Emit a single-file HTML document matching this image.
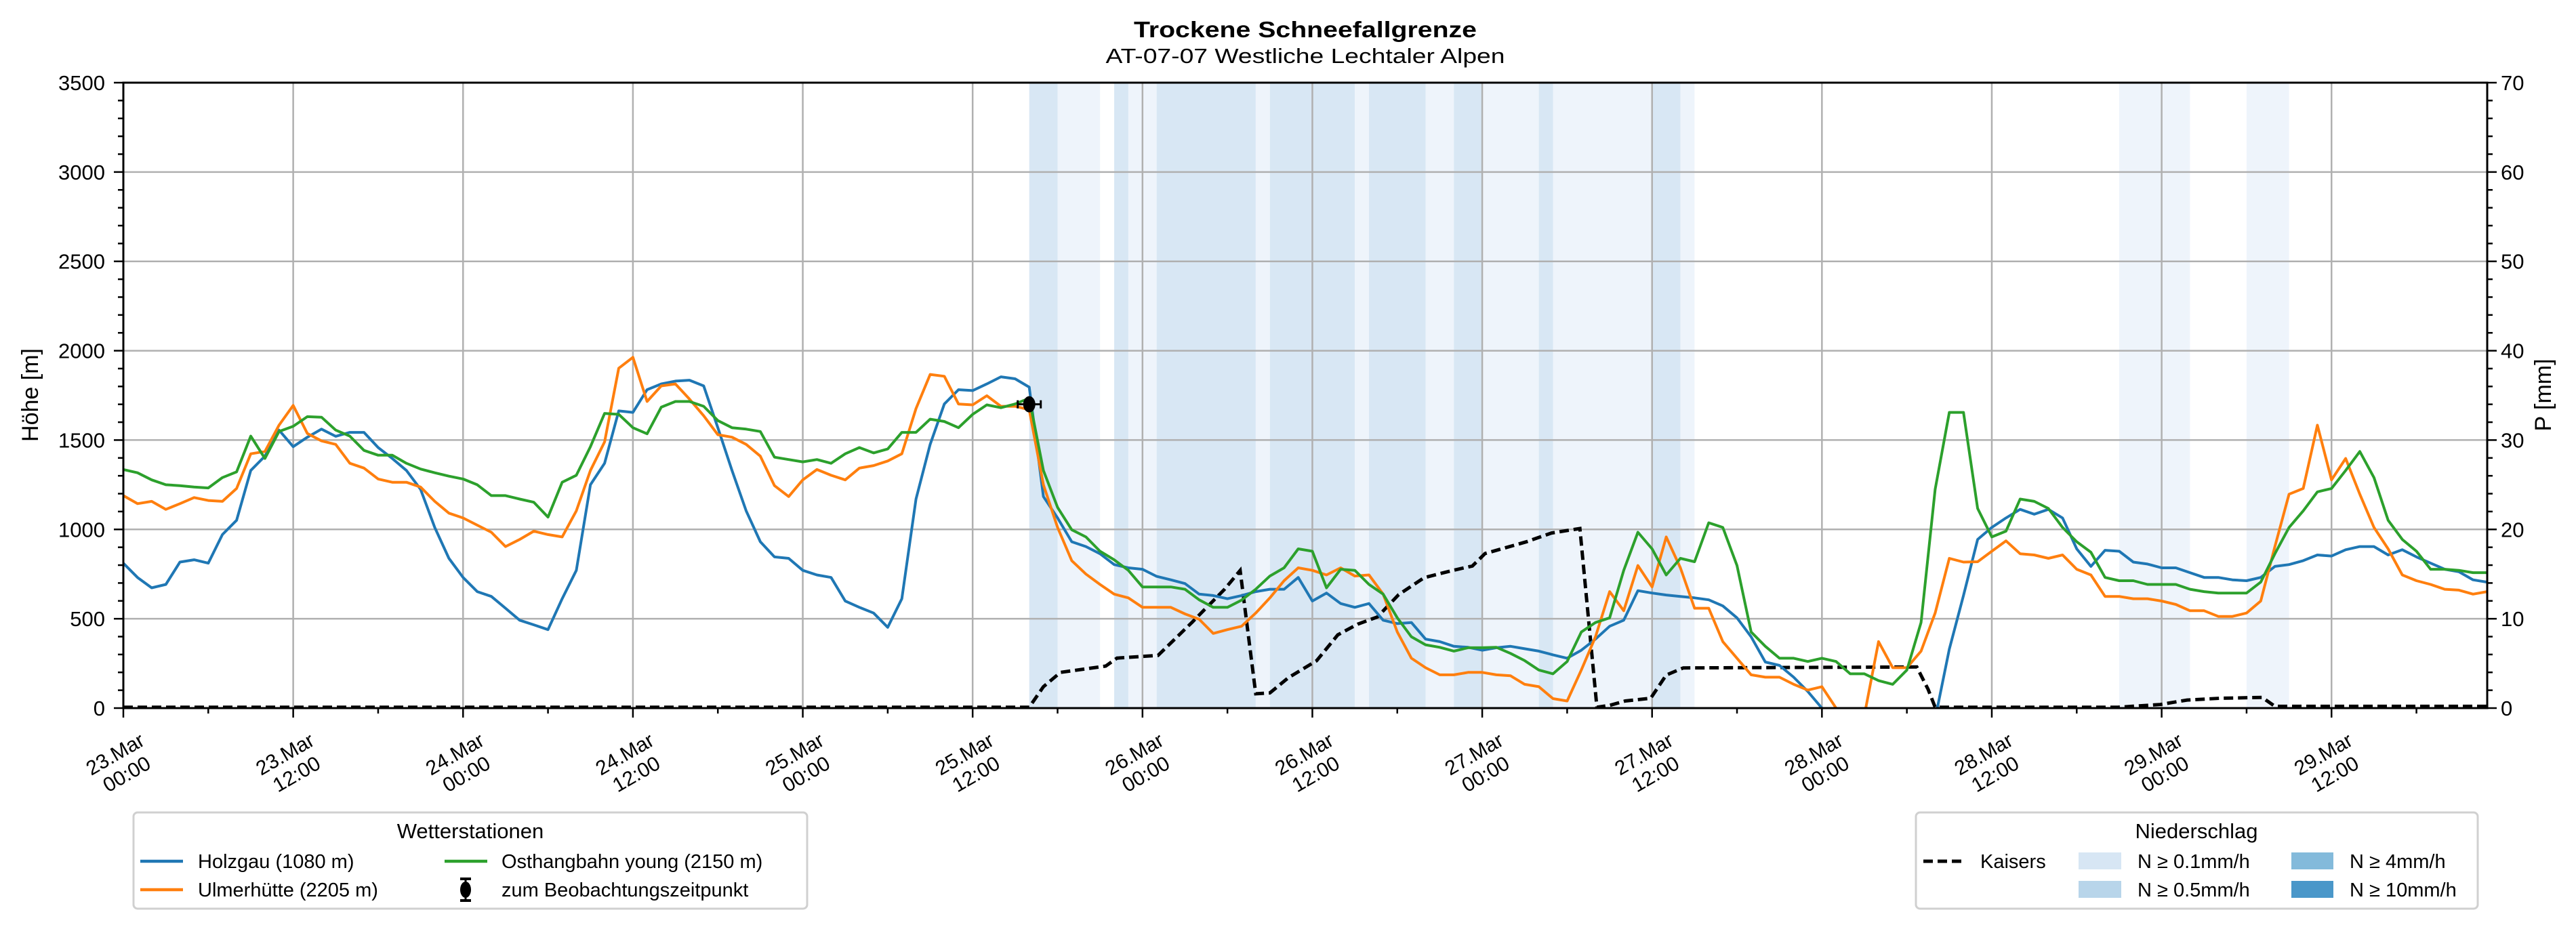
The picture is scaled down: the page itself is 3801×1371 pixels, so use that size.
<!DOCTYPE html>
<html><head><meta charset="utf-8"><title>Trockene Schneefallgrenze</title>
<style>
html,body{margin:0;padding:0;background:#fff;}
svg{display:block;font-family:"Liberation Sans","DejaVu Sans",sans-serif;}
</style></head>
<body>
<svg id="chart" width="3801" height="1371" viewBox="0 0 3801 1371" xmlns="http://www.w3.org/2000/svg">
  <rect x="0" y="0" width="3801" height="1371" fill="#fff"/>
  <defs><clipPath id="plotclip"><rect x="182" y="122" width="3488" height="923"/></clipPath></defs>
  <text x="1926" y="55" text-anchor="middle" font-weight="bold" font-size="33" textLength="506" lengthAdjust="spacingAndGlyphs">Trockene Schneefallgrenze</text>
  <text x="1926" y="93" text-anchor="middle" font-size="31" textLength="589" lengthAdjust="spacingAndGlyphs">AT-07-07 Westliche Lechtaler Alpen</text>
  <g id="spans"></g>
  <g id="grid"></g>
  <g id="series" clip-path="url(#plotclip)"></g>
  <g id="axes"></g>
  <text transform="translate(56,583) rotate(-90)" text-anchor="middle" font-size="34">Höhe [m]</text>
  <text transform="translate(3764,583) rotate(-90)" text-anchor="middle" font-size="34">P [mm]</text>

  <g>
    <rect x="197" y="1199" width="994" height="142" rx="6" fill="#fff" stroke="#d0d0d0" stroke-width="3"/>
    <text x="694" y="1237" text-anchor="middle" font-size="31">Wetterstationen</text>
    <g>
      <line x1="207" y1="1271" x2="270" y2="1271" stroke="#1f77b4" stroke-width="4.5"/>
      <text x="292" y="1281" font-size="29">Holzgau (1080 m)</text>
    </g>
    <g>
      <line x1="207" y1="1313" x2="270" y2="1313" stroke="#ff7f0e" stroke-width="4.5"/>
      <text x="292" y="1323" font-size="29">Ulmerhütte (2205 m)</text>
    </g>
    <g>
      <line x1="656" y1="1271" x2="719" y2="1271" stroke="#2ca02c" stroke-width="4.5"/>
      <text x="740" y="1281" font-size="29">Osthangbahn young (2150 m)</text>
    </g>
    <g>
      <line x1="687" y1="1297" x2="687" y2="1329" stroke="#000" stroke-width="3"/>
      <line x1="679" y1="1297" x2="695" y2="1297" stroke="#000" stroke-width="4"/>
      <line x1="679" y1="1329" x2="695" y2="1329" stroke="#000" stroke-width="4"/>
      <ellipse cx="687" cy="1313" rx="8" ry="12" fill="#000"/>
      <text x="740" y="1323" font-size="29">zum Beobachtungszeitpunkt</text>
    </g>
  </g>

  <g>
    <rect x="2827" y="1199" width="829" height="142" rx="6" fill="#fff" stroke="#d0d0d0" stroke-width="3"/>
    <text x="3241" y="1237" text-anchor="middle" font-size="31">Niederschlag</text>
    <g>
      <line x1="2838" y1="1271" x2="2896" y2="1271" stroke="#000" stroke-width="5" stroke-dasharray="14,7"/>
      <text x="2922" y="1281" font-size="29">Kaisers</text>
    </g>
    <g>
      <rect x="3067" y="1258" width="63" height="25" fill="#d7e6f4"/>
      <text x="3154" y="1281" font-size="29">N ≥ 0.1mm/h</text>
    </g>
    <g>
      <rect x="3067" y="1300" width="63" height="25" fill="#b8d5ea"/>
      <text x="3154" y="1323" font-size="29">N ≥ 0.5mm/h</text>
    </g>
    <g>
      <rect x="3381" y="1258" width="62" height="25" fill="#83badb"/>
      <text x="3467" y="1281" font-size="29">N ≥ 4mm/h</text>
    </g>
    <g>
      <rect x="3381" y="1300" width="62" height="25" fill="#4a97c9"/>
      <text x="3467" y="1323" font-size="29">N ≥ 10mm/h</text>
    </g>
  </g>
</svg>
<script>
// ---- data ----
const holzgau = [811,731,673,692,817,830,811,971,1051,1330,
1410,1556,1463,1516,1561,1521,1543,1543,1458,1397,
1330,1224,1011,838,731,652,625,559,492,466,
439,612,771,1250,1370,1663,1655,1782,1814,1830,
1835,1803,1569,1330,1104,931,846,838,771,745,
731,599,564,532,452,612,1170,1476,1702,1782,
1777,1814,1854,1843,1796,1184,1064,931,904,864,
803,785,777,737,718,697,638,630,612,630,
652,665,665,731,599,644,585,564,585,492,
473,479,386,372,346,340,324,338,346,332,
319,298,279,324,386,458,492,657,644,633,
625,617,606,572,505,399,258,239,173,93,
0,-300,-300,-300,-300,-300,-300,-300,-60,330,
630,944,1011,1064,1112,1085,1112,1064,891,793,
883,878,817,806,785,785,758,731,731,718,
713,731,793,803,825,857,851,886,904,904,
857,886,846,811,777,763,718,705];
const ulmerhuette = [1189,1144,1157,1112,1144,1178,1162,1157,1229,1423,
1436,1583,1694,1537,1495,1476,1370,1343,1282,1264,
1264,1237,1157,1091,1064,1024,984,904,944,990,
971,958,1104,1330,1490,1902,1963,1716,1803,1814,
1729,1636,1530,1516,1476,1410,1245,1184,1277,1335,
1303,1277,1343,1357,1383,1423,1676,1867,1857,1702,
1697,1748,1689,1689,1670,1250,1011,825,750,692,
638,617,564,564,564,527,497,418,439,458,
532,617,713,785,771,745,785,739,745,638,
426,279,226,186,186,200,200,186,181,133,
120,53,40,213,399,652,545,798,678,958,
785,559,559,372,279,186,173,173,133,101,
120,0,-300,-40,372,226,226,319,532,838,
817,819,878,936,864,857,838,857,777,745,
625,625,612,612,599,580,545,545,513,513,
532,599,904,1197,1229,1583,1277,1397,1197,1011,
891,745,713,692,665,660,638,652];
const osthangbahn = [1335,1317,1277,1250,1245,1237,1232,1290,1322,1522,
1397,1548,1577,1631,1628,1556,1522,1442,1415,1415,
1370,1338,1317,1298,1282,1250,1189,1189,1170,1152,
1069,1264,1303,1463,1649,1644,1569,1535,1684,1716,
1716,1689,1609,1569,1561,1548,1404,1391,1378,1391,
1370,1423,1458,1428,1450,1543,1543,1617,1604,1569,
1644,1697,1681,1702,1734,1330,1123,998,958,878,
830,771,678,678,678,665,606,564,564,604,
665,739,785,891,878,673,777,771,692,638,
505,399,354,340,319,338,338,340,306,266,
213,192,261,426,479,505,771,984,891,745,
838,819,1037,1011,798,426,346,279,279,261,
279,261,192,192,154,133,213,479,1224,1655,
1655,1117,958,990,1170,1157,1117,1011,931,872,
731,713,713,692,692,692,665,652,644,644,
644,705,864,1011,1104,1210,1229,1330,1436,1290,
1051,944,878,777,777,771,758,758];
const kaisersHours = [0,64,65,66.2,69.4,70.2,73.1,75.5,77.8,78.9,80,81,82.3,84.3,85.8,87.2,88.6,90.1,91.9,93.9,95.3,96.2,99.1,100.9,102.9,104.1,105,106.1,107.9,109,110.2,126.7,127.5,128,140.9,143.9,145.8,148.1,151.1,152,167];
const kaisersMM = [0.1,0.1,2.4,4.0,4.7,5.6,5.9,9.6,13.3,15.4,1.6,1.7,3.4,5.3,8.2,9.4,10.2,12.7,14.6,15.4,15.9,17.3,18.6,19.6,20.1,0.1,0.3,0.8,1.1,3.7,4.5,4.6,2.1,0.1,0.1,0.4,0.9,1.1,1.2,0.2,0.2];
const precipStart = [64,66,70,71,73,80,81,87,88,92,94,96,100,101,108,110,141,150];
const precipEnd   = [66,69,71,73,80,81,87,88,92,94,96,100,101,108,110,111,146,153];
const precipLevel = [2,1,2,1,2,1,2,1,2,1,2,1,2,1,2,1,1,1];
const obsHour = [64];
const obsValue = [1700];
const xTickLabels = [["23.Mar","00:00"],["23.Mar","12:00"],["24.Mar","00:00"],["24.Mar","12:00"],["25.Mar","00:00"],["25.Mar","12:00"],["26.Mar","00:00"],["26.Mar","12:00"],["27.Mar","00:00"],["27.Mar","12:00"],["28.Mar","00:00"],["28.Mar","12:00"],["29.Mar","00:00"],["29.Mar","12:00"]];
const yTickValues = [0,500,1000,1500,2000,2500,3000,3500];
const y2TickValues = [0,10,20,30,40,50,60,70];

// ---- scales ----
const PL=182, PR=3670, PT=122, PB=1045, HMAX=167;
const NS="http://www.w3.org/2000/svg";
function xs(h){return PL+(PR-PL)*h/HMAX;}
function ys(v){return PB-(PB-PT)*v/3500;}
function ys2(v){return PB-(PB-PT)*v/70;}
function mk(tag,attrs,parent){const e=document.createElementNS(NS,tag);for(const k in attrs)e.setAttribute(k,attrs[k]);parent.appendChild(e);return e;}

const spans=document.getElementById('spans');
const grid=document.getElementById('grid');
const series=document.getElementById('series');
const axes=document.getElementById('axes');

// spans
const spanColors={1:"#eef4fb",2:"#d8e7f4"};
for(let i=0;i<precipStart.length;i++){
  const r=mk('rect',{x:xs(precipStart[i]),y:PT,width:xs(precipEnd[i])-xs(precipStart[i]),height:PB-PT,fill:spanColors[precipLevel[i]]},spans);
  
  
}
// grid
for(let i=0;i<xTickLabels.length;i++){
  const g=mk('line',{x1:xs(i*12),x2:xs(i*12),y1:PT,y2:PB,stroke:"#b0b0b0","stroke-width":2.5},grid);
  
  
}
for(const v of yTickValues){
  const g=mk('line',{x1:PL,x2:PR,y1:ys(v),y2:ys(v),stroke:"#b0b0b0","stroke-width":2.5},grid);
  
  
}
// series
function pathFrom(vals){return vals.map((v,i)=>(i?'L':'M')+xs(i).toFixed(1)+','+ys(v).toFixed(1)).join(' ');}
const sdefs=[[holzgau,"#1f77b4","line-holzgau"],[ulmerhuette,"#ff7f0e","line-ulmerhuette"],[osthangbahn,"#2ca02c","line-osthangbahn"]];
const kp=mk('path',{d:kaisersHours.map((h,i)=>(i?'L':'M')+xs(h).toFixed(1)+','+ys2(kaisersMM[i]).toFixed(1)).join(' '),fill:"none",stroke:"#000","stroke-width":5,"stroke-dasharray":"14,7"},series);


for(const [vals,col,name] of sdefs){
  const p=mk('path',{d:pathFrom(vals),fill:"none",stroke:col,"stroke-width":4,"stroke-linejoin":"round"},series);
  
  
}
// observation marker
for(let i=0;i<obsHour.length;i++){
  const cx=xs(obsHour[i]), cy=ys(obsValue[i]);
  const og=mk('g',{},series);
  
  
  mk('line',{x1:cx-17,x2:cx+17,y1:cy,y2:cy,stroke:"#000","stroke-width":3},og);
  mk('line',{x1:cx-17,x2:cx-17,y1:cy-6,y2:cy+6,stroke:"#000","stroke-width":3},og);
  mk('line',{x1:cx+17,x2:cx+17,y1:cy-6,y2:cy+6,stroke:"#000","stroke-width":3},og);
  mk('ellipse',{cx:cx,cy:cy,rx:9,ry:12,fill:"#000"},og);
}
// spines
const frame=mk('rect',{x:PL,y:PT,width:PR-PL,height:PB-PT,fill:"none",stroke:"#000","stroke-width":3},axes);


// x ticks
for(let h=0;h<=HMAX;h+=6){
  const major=h%12===0;
  const t=mk('line',{x1:xs(h),x2:xs(h),y1:PB,y2:PB+(major?14:8),stroke:"#000","stroke-width":2.5},axes);
  
  
}
for(let i=0;i<xTickLabels.length;i++){
  const tx=mk('text',{transform:`translate(${xs(i*12)-4},1127) rotate(-30)`,"text-anchor":"middle","font-size":30},axes);
  
  
  const a=mk('tspan',{x:0,y:-6},tx); a.textContent=xTickLabels[i][0];
  const b=mk('tspan',{x:0,y:28},tx); b.textContent=xTickLabels[i][1];
}
// left y ticks
for(let v=0;v<=3500;v+=100){
  const major=v%500===0;
  const t=mk('line',{x1:PL,x2:PL-(major?14:8),y1:ys(v),y2:ys(v),stroke:"#000","stroke-width":2.5},axes);
  
  
}
for(const v of yTickValues){
  const tx=mk('text',{x:155,y:ys(v)+11,"text-anchor":"end","font-size":31},axes);
  
  
  tx.textContent=String(v);
}
// right y ticks
for(let v=0;v<=70;v+=2){
  const major=v%10===0;
  const t=mk('line',{x1:PR,x2:PR+(major?14:8),y1:ys2(v),y2:ys2(v),stroke:"#000","stroke-width":2.5},axes);
  
  
}
for(const v of y2TickValues){
  const tx=mk('text',{x:3690,y:ys2(v)+11,"text-anchor":"start","font-size":31},axes);
  
  
  tx.textContent=String(v);
}
</script>
</body></html>
